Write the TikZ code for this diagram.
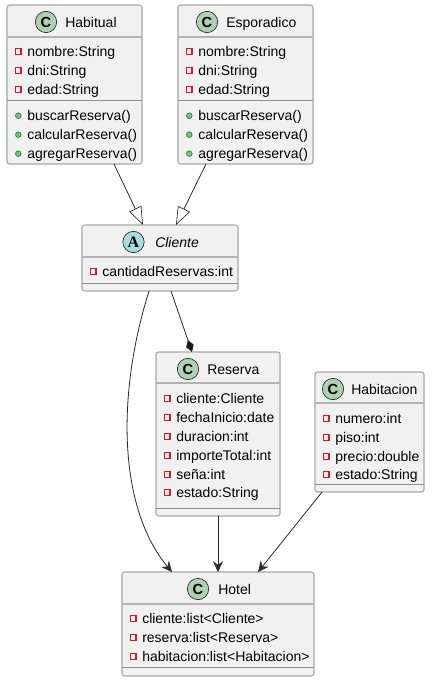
\documentclass[tikz,border=0pt]{standalone}
\usepackage{fontspec}
\setmainfont{Liberation Sans}
\newfontfamily\iconslab{Liberation Serif}
\usetikzlibrary{arrows.meta,calc}
\definecolor{boxfill}{HTML}{F1F1F1}
\definecolor{boxline}{HTML}{A8A8A8}
\definecolor{sepline}{HTML}{B4B4B4}
\definecolor{septhin}{HTML}{8E8E8E}
\definecolor{linkline}{HTML}{2A2A2A}
\definecolor{iconc}{HTML}{ADD1B2}
\definecolor{icona}{HTML}{A9DCDF}
\definecolor{privred}{HTML}{D81828}
\definecolor{privfill}{HTML}{FFF0F0}
\definecolor{pubgreen}{HTML}{38864A}
\definecolor{pubfill}{HTML}{84BE84}
\tikzset{
  x=0.75pt,y=-0.75pt,
  classbox/.style={draw=boxline,fill=boxfill,line width=0.8pt,rounded corners=1.9pt,inner sep=0pt,outer sep=0pt,anchor=north west},
  sepa/.style={draw=sepline,line width=1pt},
  sepb/.style={draw=septhin,line width=0.55pt},
  icon/.style={circle,draw=black!85,line width=0.5pt,minimum size=16pt,inner sep=0pt,font=\bfseries\fontsize{11}{11}\selectfont},
  lbl/.style={anchor=base west,inner sep=0pt,yshift=-0.6pt,font=\fontsize{10.5}{12}\selectfont,text=black},
  ttl/.style={anchor=base west,inner sep=0pt,yshift=-0.5pt,font=\fontsize{10.5}{12}\selectfont,text=black},
  priv/.style={draw=privred,fill=privfill,line width=0.85pt},
  pub/.style={draw=pubgreen,fill=pubfill,line width=0.6pt},
  link/.style={draw=linkline,line width=0.6pt},
  linkarrow/.style={link,-{Stealth[length=8pt,width=7.5pt,inset=2.6pt]}},
  inherit/.style={link,-{Triangle[open,length=13.5pt,width=10pt,line width=0.5pt,fill=white]}},
  compose/.style={link,-{Diamond[length=9.5pt,width=6pt,fill=black!90]}},
}
\newcommand{\privrow}[3]{% x, baseline, text
  \fill[priv] (#1+1.2,#2-7.4) rectangle ++(5.8,5.8);
  \node[lbl] at (#1+13,#2) {#3};}
\newcommand{\pubrow}[3]{%
  \fill[pub] (#1+4.3,#2-4.3) circle (2.1pt);
  \node[lbl] at (#1+13,#2) {#3};}
\begin{document}
\begin{tikzpicture}
\useasboundingbox (0,0) rectangle (432,680);
\fill[white] (0,0) rectangle (432,680);

% Habitual
\node[classbox,minimum width=101.25pt,minimum height=119.25pt] (hab) at (7,5) {};
\draw[sepa] (7,37) -- (142,37); \draw[sepb] (7,100) -- (142,100);
\node[icon,fill=iconc] (habi) at (46,22) {C};
\node[ttl] (habt) at (65,27) {Habitual};
\privrow{14}{56}{nombre:String}
\privrow{14}{75}{dni:String}
\privrow{14}{94}{edad:String}
\pubrow{14}{120}{buscarReserva()}
\pubrow{14}{139}{calcularReserva()}
\pubrow{14}{158}{agregarReserva()}

% Esporadico
\node[classbox,minimum width=101.25pt,minimum height=119.25pt] (esp) at (178,5) {};
\draw[sepa] (178,37) -- (313,37); \draw[sepb] (178,100) -- (313,100);
\node[icon,fill=iconc] (espi) at (207,22) {C};
\node[ttl] (espt) at (226,27) {Esporadico};
\privrow{185}{56}{nombre:String}
\privrow{185}{75}{dni:String}
\privrow{185}{94}{edad:String}
\pubrow{185}{120}{buscarReserva()}
\pubrow{185}{139}{calcularReserva()}
\pubrow{185}{158}{agregarReserva()}

% Cliente
\node[classbox,minimum width=117pt,minimum height=49.5pt] (cli) at (82,225) {};
\draw[sepa] (82,257) -- (238,257); \draw[sepb] (82,283) -- (238,283);
\node[icon,fill=icona,font=\iconslab\bfseries\fontsize{12}{12}\selectfont] (clii) at (133.5,242) {A};
\node[ttl,font=\itshape\fontsize{10.5}{12}\selectfont] (clit) at (155,247) {Cliente};
\privrow{89}{276}{cantidadReservas:int}

% Reserva
\node[classbox,minimum width=93pt,minimum height=123pt] (res) at (156,352) {};
\draw[sepa] (156,383) -- (280,383); \draw[sepb] (156,508) -- (280,508);
\node[icon,fill=iconc] (resi) at (188,369) {C};
\node[ttl] (rest) at (207,374) {Reserva};
\privrow{163}{403}{cliente:Cliente}
\privrow{163}{422}{fechaInicio:date}
\privrow{163}{441}{duracion:int}
\privrow{163}{460}{importeTotal:int}
\privrow{163}{479}{seña:int}
\privrow{163}{497}{estado:String}

% Habitacion
\node[classbox,minimum width=81.75pt,minimum height=90pt] (hbn) at (315,372) {};
\draw[sepa] (315,403) -- (424,403); \draw[sepb] (315,484) -- (424,484);
\node[icon,fill=iconc] (hbni) at (333,389) {C};
\node[ttl] (hbnt) at (351,394) {Habitacion};
\privrow{322}{423}{numero:int}
\privrow{322}{442}{piso:int}
\privrow{322}{461}{precio:double}
\privrow{322}{479}{estado:String}

% Hotel
\node[classbox,minimum width=144pt,minimum height=78pt] (hot) at (122,572) {};
\draw[sepa] (122,604) -- (314,604); \draw[sepb] (122,667) -- (314,667);
\node[icon,fill=iconc] (hoti) at (198,589) {C};
\node[ttl] (hott) at (218,594) {Hotel};
\privrow{129}{623}{cliente:list<Cliente>}
\privrow{129}{642}{reserva:list<Reserva>}
\privrow{129}{661}{habitacion:list<Habitacion>}

% connectors
\draw[inherit] ([xshift=29.6pt]hab.south) -- ([xshift=-12.75pt]cli.north);
\draw[inherit] ([xshift=-29.6pt]esp.south) -- ([xshift=12pt]cli.north);
\draw[compose] ([xshift=8.25pt]cli.south) -- ([xshift=-19.5pt]res.north);
\draw[linkarrow] ([xshift=-8.25pt]cli.south) .. controls (115,400) and (120,510) .. ([xshift=-34.5pt]hot.north);
\draw[linkarrow] (res.south) -- (hot.north);
\draw[linkarrow] ([xshift=-35.6pt]hbn.south) -- ([xshift=30pt]hot.north);
\end{tikzpicture}
\end{document}
